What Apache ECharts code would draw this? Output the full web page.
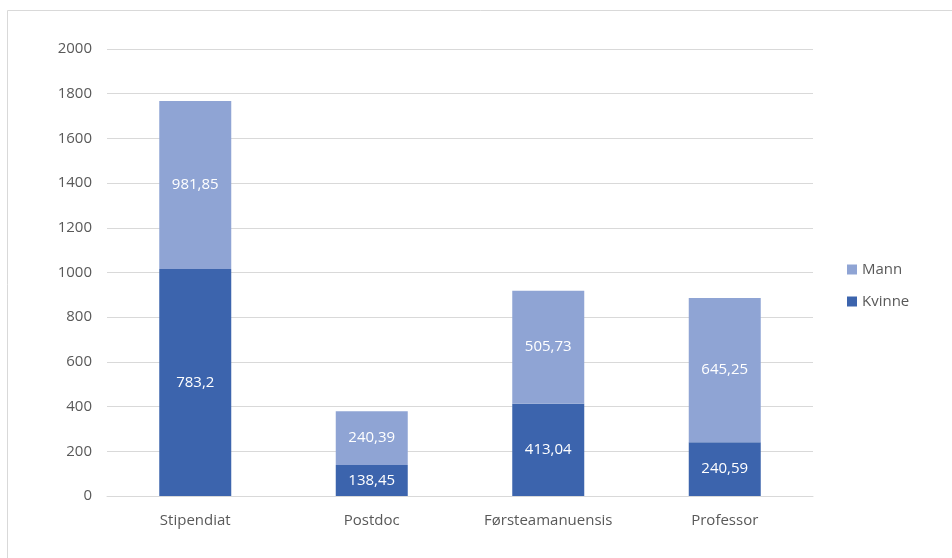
<!DOCTYPE html>
<html lang="no">
<head>
<meta charset="UTF-8" />
<title>Stillinger etter kjønn</title>
<script src="https://cdn.jsdelivr.net/npm/echarts@6/dist/echarts.min.js"></script>
<style>
    html, body { margin: 0; padding: 0; background: #fff; }
    #chart { width: 952px; height: 558px; }
</style>
</head>
<body>
<div id="chart"></div>
<script>
// data
const categories = ['Stipendiat', 'Postdoc', 'Førsteamanuensis', 'Professor'];
// bar heights as drawn in the picture
const kvinne = [1016, 138.45, 413.04, 240.59];
const mann = [751, 240.39, 505.73, 645.25];
// printed labels
const kvinneLabels = ['783,2', '138,45', '413,04', '240,59'];
const mannLabels = ['981,85', '240,39', '505,73', '645,25'];
const yTicks = [0, 200, 400, 600, 800, 1000, 1200, 1400, 1600, 1800, 2000];

const font = '"Open Sans", "Noto Sans", sans-serif';
const chart = echarts.init(document.getElementById('chart'));

chart.setOption({
    animation: false,
    textStyle: { fontFamily: font },
    graphic: [{
        type: 'rect',
        shape: { x: 7.5, y: 10.5, width: 960, height: 560 },
        style: { fill: 'none', stroke: '#d9d9d9', lineWidth: 1 },
        silent: true
    }],
    grid: { left: 107, right: 139, top: 49, bottom: 62 },
    legend: {
        orient: 'vertical',
        left: 842,
        top: 257,
        itemWidth: 10,
        itemHeight: 10,
        itemGap: 17,
        icon: 'rect',
        data: ['Mann', 'Kvinne'],
        textStyle: { fontSize: 15, color: '#595959', fontFamily: font }
    },
    xAxis: {
        type: 'category',
        data: categories,
        axisLine: { lineStyle: { color: '#d9d9d9', width: 1 } },
        axisTick: { show: false },
        axisLabel: { fontSize: 15, color: '#595959', margin: 17 }
    },
    yAxis: {
        type: 'value',
        min: yTicks[0],
        max: yTicks[yTicks.length - 1],
        interval: 200,
        axisLine: { show: false },
        axisTick: { show: false },
        splitLine: { lineStyle: { color: '#d9d9d9', width: 1 } },
        axisLabel: { fontSize: 15, color: '#595959', margin: 15, formatter: v => String(v) }
    },
    series: [{
        name: 'Kvinne',
        type: 'bar',
        stack: 'total',
        barWidth: 72,
        data: kvinne,
        itemStyle: { color: '#3c64ad' },
        label: {
            show: true,
            position: 'inside',
            color: '#fff',
            fontSize: 15,
            formatter: p => kvinneLabels[p.dataIndex]
        }
    }, {
        name: 'Mann',
        type: 'bar',
        stack: 'total',
        barWidth: 72,
        data: mann,
        itemStyle: { color: '#8fa4d4' },
        label: {
            show: true,
            position: 'inside',
            color: '#fff',
            fontSize: 15,
            formatter: p => mannLabels[p.dataIndex]
        }
    }]
});
</script>
</body>
</html>
